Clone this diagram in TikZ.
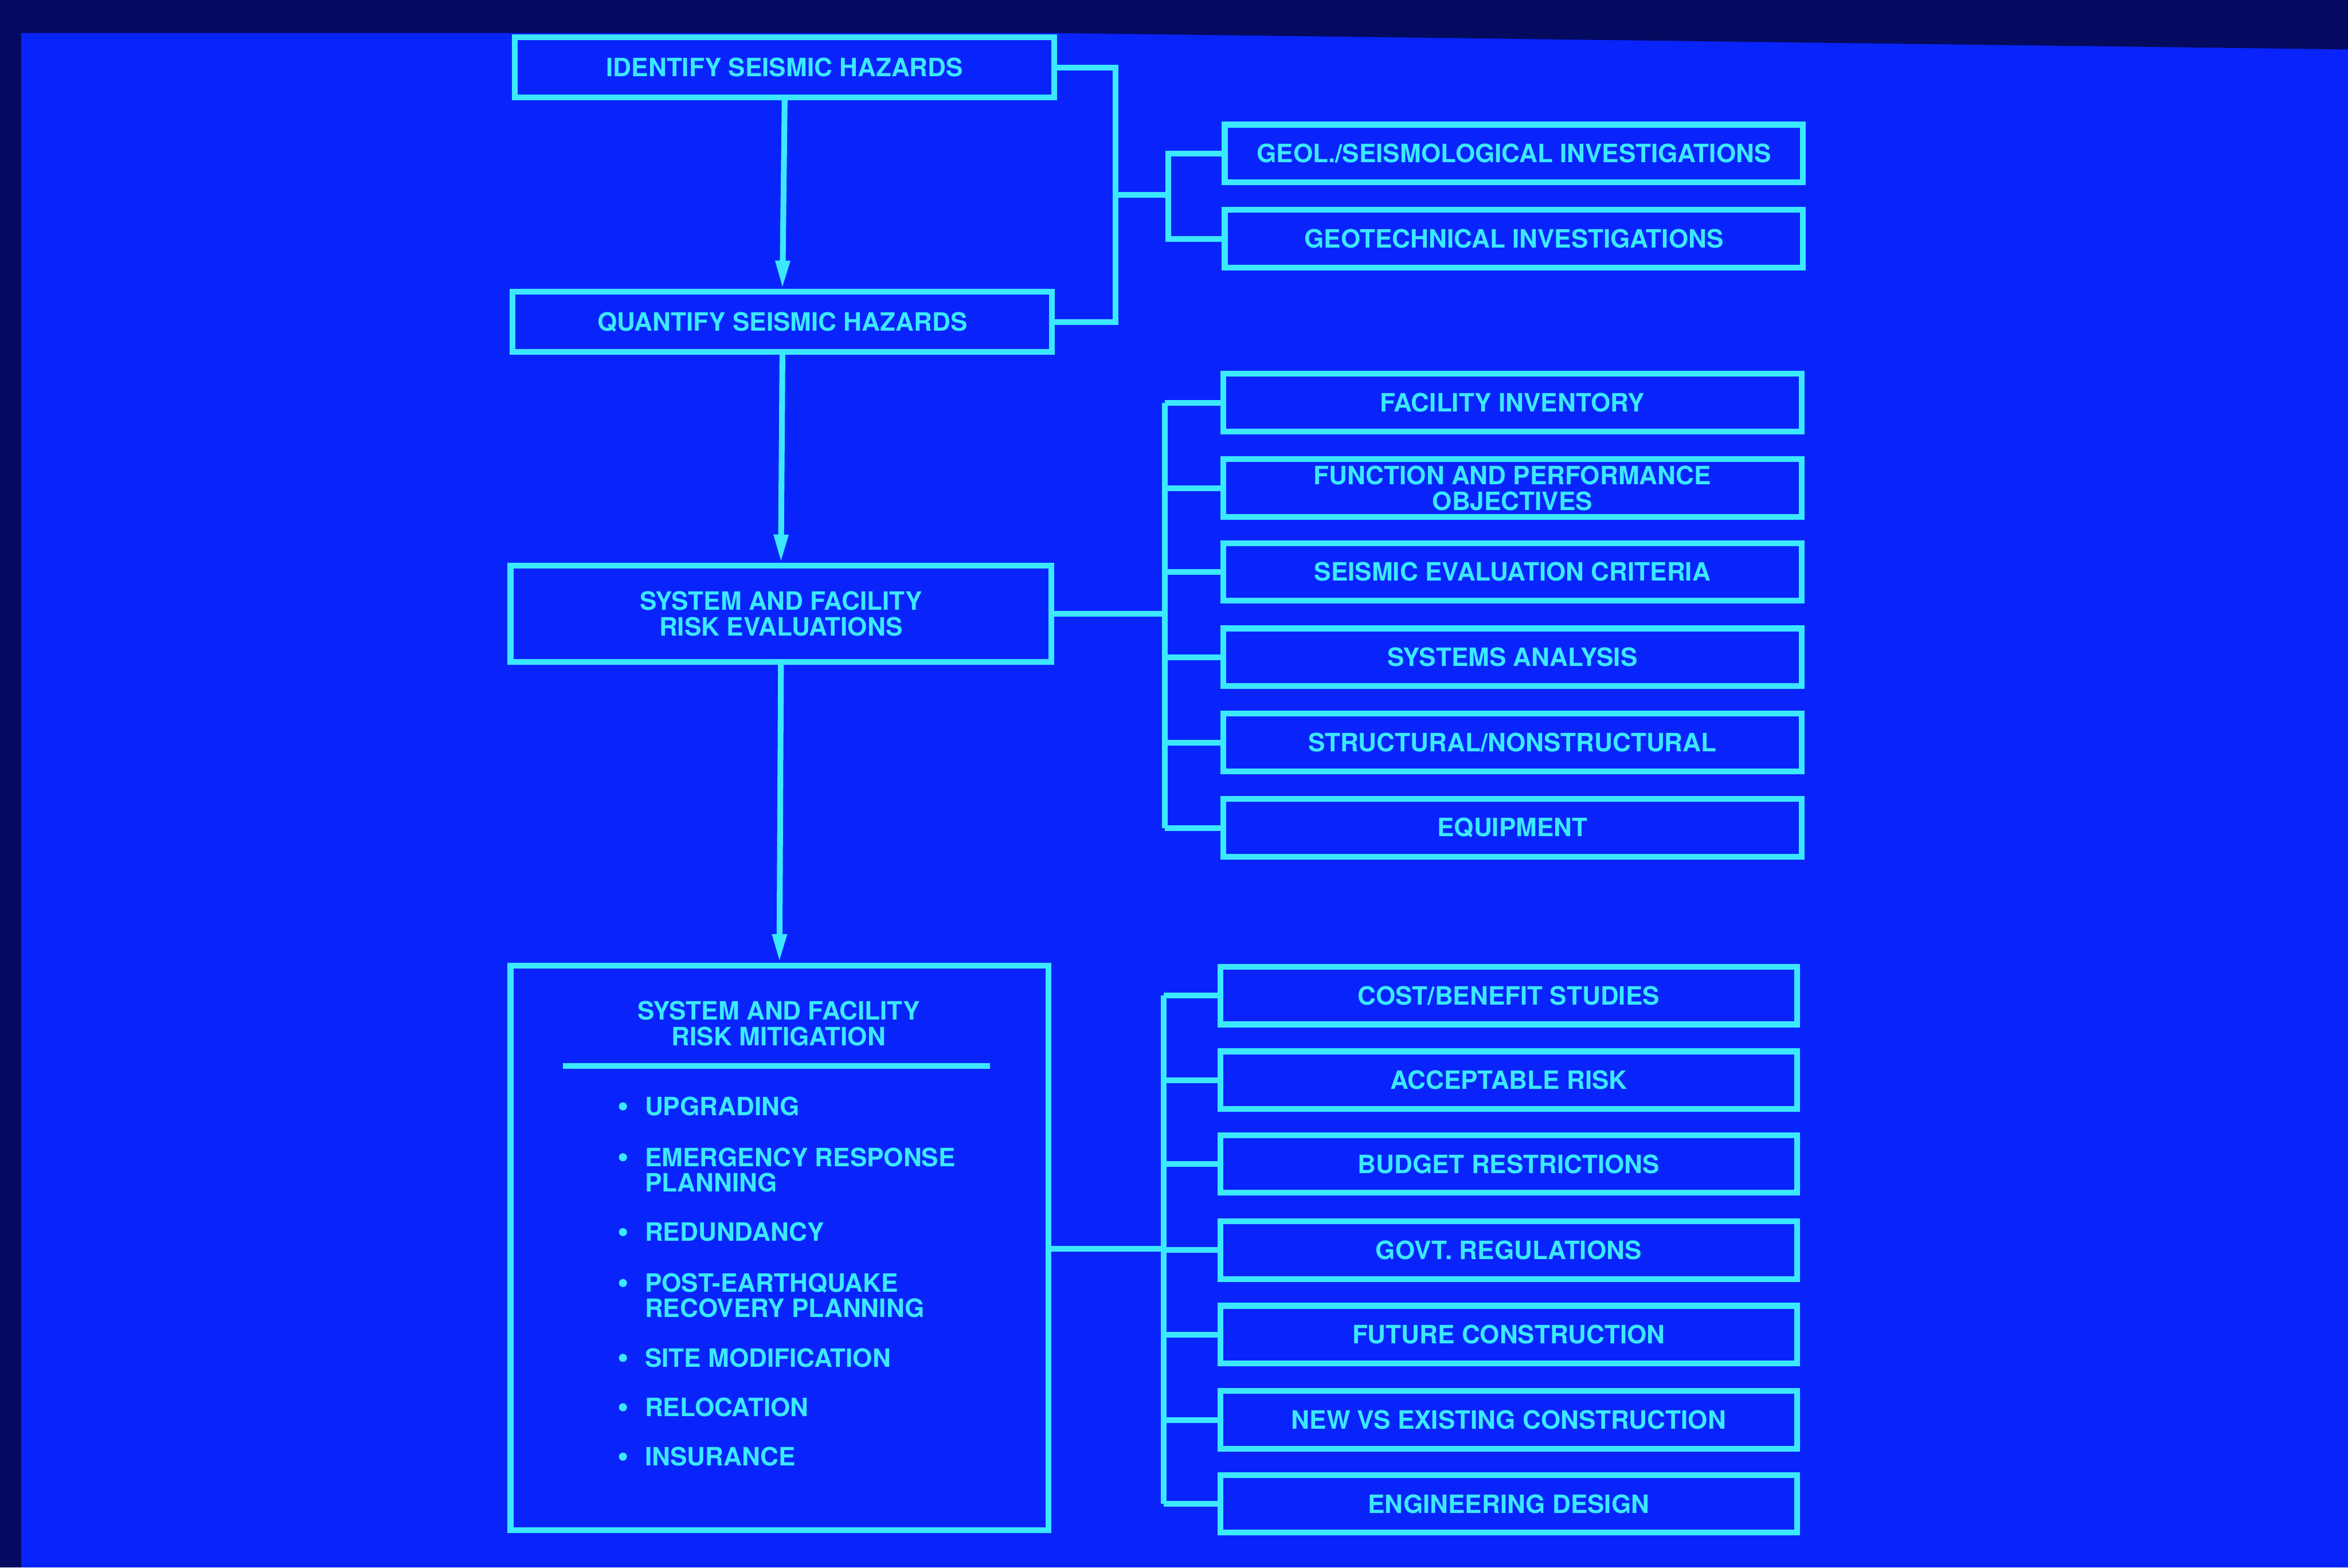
\documentclass[tikz,border=0pt]{standalone}
\usepackage{fontspec}
\setmainfont{TeX Gyre Heros}
\usetikzlibrary{arrows.meta}
\definecolor{slideblue}{RGB}{8,36,250}
\definecolor{slidedark}{RGB}{3,10,96}
\definecolor{glow}{RGB}{60,232,255}

\begin{document}
\begin{tikzpicture}[x=0.01cm, y=-0.01cm,
    >={Triangle[length=1.9mm,width=0.9mm]},
    lbl/.style={text=glow, inner sep=0pt, align=center,
        font=\bfseries\fontsize{4.8}{4.9}\selectfont},
    box/.style={lbl, draw=glow, line width=1.1pt},
    hazbox/.style={box, minimum width=3.6cm, minimum height=0.4cm},
    subbox/.style={box, minimum width=3.86cm, minimum height=0.385cm},
    itemtxt/.style={lbl, anchor=west, text height=3.45pt, text depth=0pt},
    wire/.style={draw=glow, line width=1.1pt}]

    % slide background
    \fill[slideblue] (0,0) rectangle (1568,1047);
    \fill[slidedark] (0,0) -- (1568,0) -- (1568,33) -- (700,22) -- (0,22) -- cycle;
    \fill[slidedark] (0,0) rectangle (14,1047);
    \useasboundingbox (0,0) rectangle (1568,1047);

    \node[hazbox] (idhaz) at (524,45) {IDENTIFY SEISMIC HAZARDS};
    \node[hazbox] (qhaz) at (522.5,215) {QUANTIFY SEISMIC HAZARDS};
    \node[box, minimum width=3.61cm, minimum height=0.64cm] (evals) at (521.5,410)
        {SYSTEM AND FACILITY\\RISK EVALUATIONS};
    \node[box, minimum width=3.59cm, minimum height=3.77cm] (mitig) at (520.5,833.5) {};

    \foreach \nm/\y/\txt in {geol/102.5/{GEOL./SEISMOLOGICAL INVESTIGATIONS},
            geot/159.5/{GEOTECHNICAL INVESTIGATIONS}}
        \node[subbox] (\nm) at (1011,\y) {\txt};

    \foreach \nm/\y/\txt in {inv/269/{FACILITY INVENTORY},
            func/326/{FUNCTION AND PERFORMANCE\\OBJECTIVES},
            crit/382/{SEISMIC EVALUATION CRITERIA},
            sysa/439/{SYSTEMS ANALYSIS},
            struc/496/{STRUCTURAL/NONSTRUCTURAL},
            equip/553/{EQUIPMENT}}
        \node[subbox] (\nm) at (1010,\y) {\txt};

    \foreach \nm/\y/\txt in {cost/665/{COST/BENEFIT STUDIES},
            accr/721.5/{ACCEPTABLE RISK},
            budg/777.5/{BUDGET RESTRICTIONS},
            govt/835/{GOVT. REGULATIONS},
            futc/891.5/{FUTURE CONSTRUCTION},
            newc/948.5/{NEW VS EXISTING CONSTRUCTION},
            engd/1004.5/{ENGINEERING DESIGN}}
        \node[subbox, minimum width=3.85cm] (\nm) at (1007.5,\y) {\txt};

    % mitigation box contents
    \node[lbl] (mtitle) at (520,683.5) {SYSTEM AND FACILITY\\RISK MITIGATION};
    \draw[wire] (376,712) -- (661,712);
    \foreach \y/\txt [count=\i] in {739/UPGRADING, 773/EMERGENCY RESPONSE,
            823/REDUNDANCY, 857/POST-EARTHQUAKE, 907/SITE MODIFICATION,
            940/RELOCATION, 973/INSURANCE} {
        \fill[glow] (416,\y) circle[radius=0.027cm];
        \node[itemtxt] (item\i) at (430,\y) {\txt};
    }
    \foreach \y/\txt [count=\i] in {790/PLANNING, 874/RECOVERY PLANNING}
        \node[itemtxt] (itemb\i) at (430,\y) {\txt};

    % main flow
    \draw[wire,->] (idhaz.south) -- (qhaz.north);
    \draw[wire,->] (qhaz.south) -- (evals.north);
    \draw[wire,->] (evals.south) -- (mitig.north);

    % hazard branches
    \coordinate (hzjoin) at (745,130);
    \coordinate (hzbus) at (780,130);
    \draw[wire] (idhaz.east) -| (hzjoin) |- (qhaz.east);
    \draw[wire] (hzjoin) -- (hzbus);
    \draw[wire] (geol.west) -| (hzbus) |- (geot.west);

    % evaluation branches
    \coordinate (evbus) at (778,410);
    \draw[wire] (evals.east) -- (evbus);
    \draw[wire] (evbus |- inv.west) -- (evbus |- equip.west);
    \foreach \nm in {inv,func,crit,sysa,struc,equip}
        \draw[wire] (evbus |- \nm.west) -- (\nm.west);

    % mitigation branches
    \coordinate (mtbus) at (777,834);
    \draw[wire] (mitig.east |- mtbus) -- (mtbus);
    \draw[wire] (mtbus |- cost.west) -- (mtbus |- engd.west);
    \foreach \nm in {cost,accr,budg,govt,futc,newc,engd}
        \draw[wire] (mtbus |- \nm.west) -- (\nm.west);
\end{tikzpicture}
\end{document}
